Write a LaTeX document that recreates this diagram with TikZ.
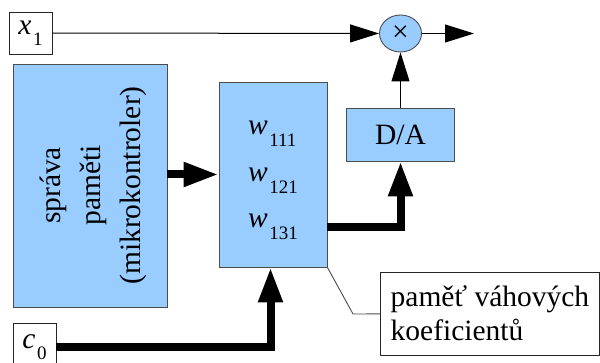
\documentclass[tikz,border=0pt]{standalone}
\usepackage{fontspec}
\setmainfont{Liberation Serif}
\newfontfamily\patkove{Liberation Serif}
\usetikzlibrary{arrows.meta,shapes.geometric}
\definecolor{modra}{RGB}{153,204,255}
\newcommand{\spodni}[2]{\textit{#1}\kern1.5pt\raisebox{-0.38em}{\fontsize{19}{19}\selectfont #2}}

\begin{document}
\begin{tikzpicture}[x=1pt,y=-1pt,
    font=\patkove\fontsize{29.5}{34}\selectfont,
    blok/.style={draw=black!70, fill=modra, line width=0.9pt, inner sep=0pt},
    ramecek/.style={draw=black!85, fill=white, line width=0.9pt, inner sep=0pt},
    tenka/.style={line width=1pt, -{Triangle[length=29pt,width=18pt]}},
    tlusta/.style={line width=8pt, -{Triangle[length=35pt,width=23pt]}}]
  \useasboundingbox (0,0) rectangle (600,363);
  \node[ramecek, minimum width=43, minimum height=42] (x1) at (30.5,33) {\spodni{x}{1}};
  \node[blok, ellipse, minimum width=42, minimum height=37] (nasob) at (400.5,33.5) {×};
  \coordinate (vystup) at (474,33.5);
  \node[blok, minimum width=108, minimum height=53] (da) at (400.5,134.5) {D/A};
  \node[blok, minimum width=154, minimum height=243] (sprava) at (90,185.5) {};
  \node[rotate=90, align=center, font=\patkove\fontsize{29.5}{40}\selectfont] (spravatext) at ([xshift=3pt]sprava.center) {správa\\paměti\\(mikrokontroler)};
  \node[blok, minimum width=108, minimum height=185] (pamet) at (273,174.5) {};
  \node[anchor=base west, inner sep=0pt] (w111) at (248,135) {\spodni{w}{111}};
  \node[anchor=base west, inner sep=0pt] (w121) at (248,182) {\spodni{w}{121}};
  \node[anchor=base west, inner sep=0pt] (w131) at (248,228) {\spodni{w}{131}};
  \node[ramecek, minimum width=43, minimum height=48] (c0) at (34.5,347) {\spodni{c}{0}};
  \node[ramecek, anchor=west, align=left, minimum width=219, minimum height=83, inner xsep=8pt] (popis) at (380,313.5) {paměť váhových\\koeficientů};
  \coordinate (zlom) at (353,314);

  \draw[tenka] (x1) -- (nasob);
  \draw[tenka] (nasob) -- (vystup);
  \draw[tenka] (da) -- (nasob);
  \draw[tlusta] (pamet.west -| sprava.east) -- (pamet.west);
  \draw[tlusta] (pamet.east |- w131) -| (da);
  \draw[tlusta] (c0) -| ([xshift=-2.5pt]pamet.south);
  \draw[black!70, line width=0.9pt] (pamet.south east) -- (zlom) -- (popis);
\end{tikzpicture}
\end{document}
